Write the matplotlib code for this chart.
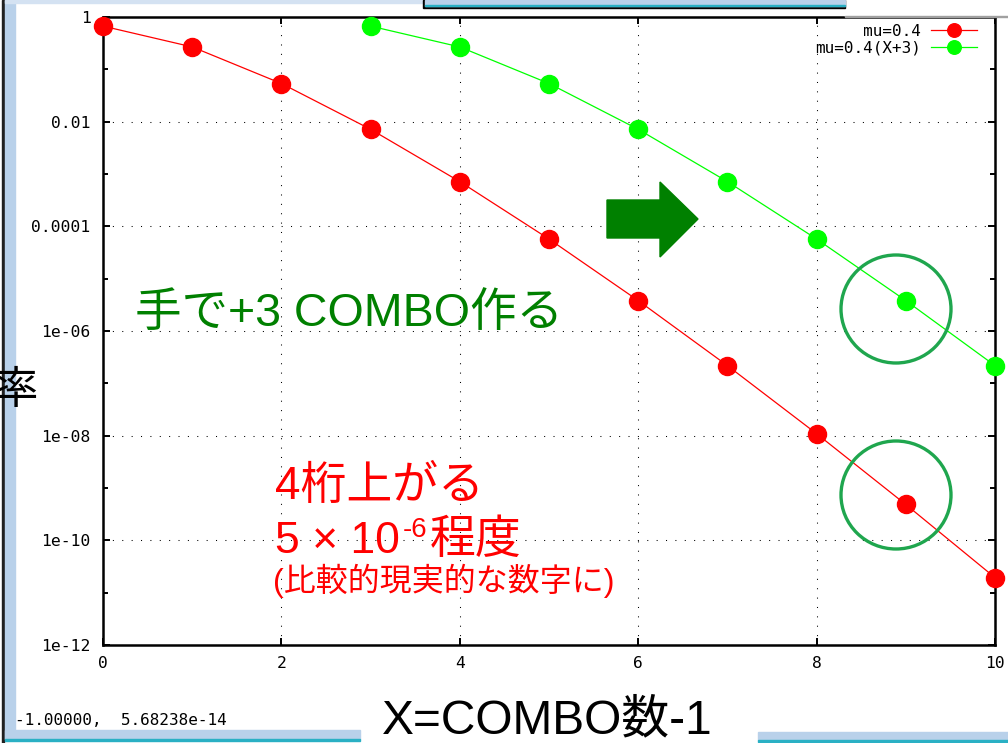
import matplotlib
matplotlib.use("Agg")
import matplotlib.pyplot as plt
from matplotlib.patches import Rectangle, Ellipse, Polygon
from matplotlib.ticker import FixedLocator, FixedFormatter, NullFormatter, NullLocator

# figure size in pixels (dpi 100)
W, H = 1008, 743

# Poisson mu=0.4: probability of X, and the same curve shifted by +3
combo = [0, 1, 2, 3, 4, 5, 6, 7, 8, 9, 10]
prob_mu04 = [0.670, 0.268, 0.0536, 0.00715, 7.15e-4, 5.72e-5,
             3.81e-6, 2.18e-7, 1.09e-8, 4.84e-10, 1.94e-11]
combo_plus3 = [3, 4, 5, 6, 7, 8, 9, 10]
prob_plus3 = [0.670, 0.268, 0.0536, 0.00715, 7.15e-4, 5.72e-5,
              3.81e-6, 2.18e-7]

series_labels = ["     mu=0.4", "mu=0.4(X+3)"]
xtick_vals = [0, 2, 4, 6, 8, 10]
ytick_vals = [1, 1e-2, 1e-4, 1e-6, 1e-8, 1e-10, 1e-12]
ytick_labels = ["1", "0.01", "0.0001", "1e-06", "1e-08", "1e-10", "1e-12"]
ytick_minor = [1e-1, 1e-3, 1e-5, 1e-7, 1e-9, 1e-11]

JP = ["Liberation Sans", "Noto Sans CJK JP"]
MONO = "DejaVu Sans Mono"
plt.rcParams["font.family"] = JP


def fx(x):
    return x / W


def fy(y):
    return 1 - y / H


fig = plt.figure(figsize=(W / 100, H / 100), dpi=100)
ax = fig.add_axes([fx(103), fy(645), (995 - 103) / W, (645 - 17) / H])

ax.plot(combo, prob_mu04, color="#ff0000", lw=0.9, marker="o", ms=13,
        label=series_labels[0], clip_on=False, zorder=3)
ax.plot(combo_plus3, prob_plus3, color="#00ff00", lw=0.9, marker="o", ms=13,
        label=series_labels[1], clip_on=False, zorder=3)

ax.set_yscale("log")
ax.set_xlim(0, 10)
ax.set_ylim(1e-12, 1)

ax.xaxis.set_major_locator(FixedLocator(xtick_vals))
ax.xaxis.set_minor_locator(NullLocator())
ax.yaxis.set_major_locator(FixedLocator(ytick_vals))
ax.yaxis.set_major_formatter(FixedFormatter(ytick_labels))
ax.yaxis.set_minor_locator(FixedLocator(ytick_minor))
ax.yaxis.set_minor_formatter(NullFormatter())

ax.tick_params(which="both", direction="in", top=True, right=True, width=1.4,
               labelsize=11.8, labelfontfamily=MONO)
ax.tick_params(which="major", length=5)
ax.tick_params(which="minor", length=3.5)
ax.tick_params(axis="y", pad=9)
ax.tick_params(axis="x", pad=8)
for s in ax.spines.values():
    s.set_linewidth(1.8)
ax.grid(True, which="major", color="black", lw=0.75, linestyle=(0, (1, 8)))

leg = ax.legend(loc="upper right", bbox_to_anchor=(fx(977), fy(24)),
                bbox_transform=fig.transFigure, frameon=False, markerfirst=False,
                prop={"family": MONO, "size": 11.5}, handlelength=2.9,
                handletextpad=0.6, labelspacing=0.1, borderpad=0,
                borderaxespad=0, markerscale=0.75)

# window frame bits around the plot
blue = "#b9d1ea"
teal = "#2ab0c4"
frame_parts = [
    Rectangle((fx(2), fy(743)), 1.5 / W, 743 / H, color="#202020"),
    Rectangle((fx(5), fy(739)), 10 / W, 739 / H, color=blue),
    Rectangle((fx(5), fy(3)), (425 - 5) / W, 3 / H, color="#d4e2f2"),
    Rectangle((fx(5), fy(739)), (360 - 5) / W, 9 / H, color=blue),
    Rectangle((fx(5), fy(741)), (360 - 5) / W, 2 / H, color=teal),
    Rectangle((fx(758), fy(740)), (W - 758) / W, 8 / H, color=blue),
    Rectangle((fx(758), fy(742)), (W - 758) / W, 2 / H, color=teal),
    Rectangle((fx(845), fy(16)), (W - 845) / W, 16 / H, color="white"),
    Rectangle((fx(845), fy(17)), (W - 845) / W, 1 / H, color="#a0a0a0"),
    Rectangle((fx(423), fy(8)), (845 - 423) / W, 8 / H, color="black"),
    Rectangle((fx(425), fy(6)), (845 - 425) / W, 6 / H, color=blue),
    Rectangle((fx(425), fy(6)), (845 - 425) / W, 1 / H, color=teal),
]
for p in frame_parts:
    p.set_transform(fig.transFigure)
    p.set_zorder(10)
    fig.add_artist(p)

# shift arrow and highlight circles
arrow = Polygon([(fx(607), fy(200)), (fx(660), fy(200)), (fx(660), fy(182)),
                 (fx(698), fy(219)), (fx(660), fy(257)), (fx(660), fy(238)),
                 (fx(607), fy(238))], closed=True, color="#008000",
                transform=fig.transFigure, zorder=5)
fig.add_artist(arrow)
for cy in (309, 495):
    fig.add_artist(Ellipse((fx(896), fy(cy)), 110 / W, 108 / H, fill=False,
                           ec="#1fa64e", lw=2.4, transform=fig.transFigure,
                           zorder=5))

# slide text
fig.text(fx(135), fy(326), "手で+3 COMBO作る", color="#008000", fontsize=33.5,
         family=JP, va="baseline", zorder=6)
fig.text(fx(275), fy(499), "4桁上がる", color="#ff0000", fontsize=33,
         family=JP, va="baseline", zorder=6)
t1 = fig.text(fx(275), fy(553), "5 × 10", color="#ff0000", fontsize=32,
              family=JP, va="baseline", zorder=6)
fig.canvas.draw()
r = fig.canvas.get_renderer()
x1 = t1.get_window_extent(r).x1
t2 = fig.text((x1 + 3) / W, fy(537), "-6", color="#ff0000", fontsize=20,
              family=JP, va="baseline", zorder=6)
x2 = t2.get_window_extent(r).x1
fig.text((x2 + 2) / W, fy(553), "程度", color="#ff0000", fontsize=33,
         family=JP, va="baseline", zorder=6)
fig.text(fx(273), fy(591), "(比較的現実的な数字に)", color="#ff0000", fontsize=23,
         family=JP, va="baseline", zorder=6)

fig.text(fx(38), fy(403), "率", color="black", fontsize=32, ha="right",
         family=JP, va="baseline", zorder=12)
fig.text(fx(382), fy(733), "X=COMBO数-1", color="black", fontsize=34.5,
         family=JP, va="baseline", zorder=6)
fig.text(fx(15), fy(725), "-1.00000,  5.68238e-14", color="black",
         fontsize=11.5, family=MONO, va="baseline", zorder=12)

fig.savefig("out.png", dpi=100)
